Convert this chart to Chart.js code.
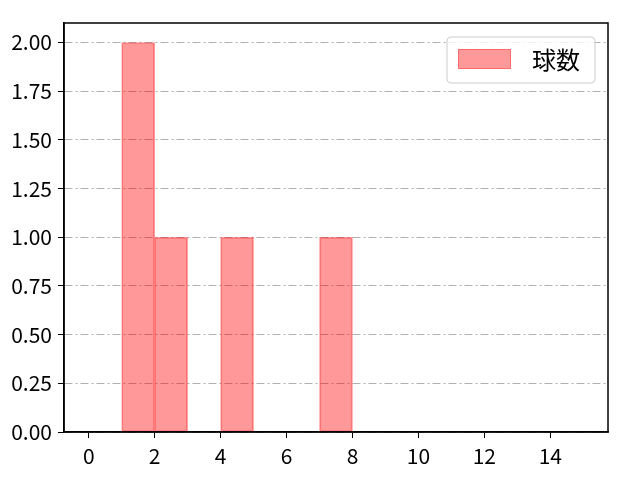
<!DOCTYPE html>
<html>
<head>
<meta charset="utf-8">
<script src="https://cdn.jsdelivr.net/npm/chart.js@4.4.0/dist/chart.umd.min.js"></script>
<style>
  html, body { margin: 0; padding: 0; background: #fff; }
  #wrap { width: 640px; height: 480px; }
</style>
</head>
<body>
<div id="wrap"><canvas id="myChart" width="640" height="480"></canvas></div>
<script>
// histogram bins (left edges, width 1) and counts
const binStarts = [0, 1, 2, 3, 4, 5, 6, 7, 8, 9, 10, 11, 12, 13, 14];
const counts = [0, 2, 1, 0, 1, 0, 0, 1, 0, 0, 0, 0, 0, 0, 0];
const seriesLabel = "球数";
const xTicks = [0, 2, 4, 6, 8, 10, 12, 14];
const yTicks = [0, 0.25, 0.5, 0.75, 1, 1.25, 1.5, 1.75, 2];

const FONT = "'Noto Sans CJK JP', 'Noto Sans', sans-serif";

const points = [];
for (let i = 0; i < binStarts.length; i++) {
  if (counts[i] > 0) points.push({ x: binStarts[i] + 0.5, y: counts[i] });
}

// frame round the plot + matplotlib-like legend box
const framePlugin = {
  id: "frame",
  afterDraw(chart) {
    const ctx = chart.ctx;
    const ca = chart.chartArea;
    ctx.save();
    ctx.strokeStyle = "#000";
    ctx.lineWidth = 1.5;
    ctx.strokeRect(ca.left, ca.top, ca.right - ca.left, ca.bottom - ca.top);

    const w = 148, h = 46;
    const x = ca.right - 13 - w, y = ca.top + 14;
    const r = 4;
    ctx.beginPath();
    ctx.moveTo(x + r, y);
    ctx.arcTo(x + w, y, x + w, y + h, r);
    ctx.arcTo(x + w, y + h, x, y + h, r);
    ctx.arcTo(x, y + h, x, y, r);
    ctx.arcTo(x, y, x + w, y, r);
    ctx.closePath();
    ctx.fillStyle = "rgba(255,255,255,0.8)";
    ctx.fill();
    ctx.strokeStyle = "#cccccc";
    ctx.lineWidth = 1;
    ctx.stroke();

    ctx.fillStyle = "rgba(255,0,0,0.4)";
    ctx.fillRect(x + 11, y + 12, 53, 20);
    ctx.strokeStyle = "rgba(255,0,0,0.3)";
    ctx.strokeRect(x + 11.5, y + 12.5, 52, 19);

    ctx.fillStyle = "#000";
    ctx.font = "24px " + FONT;
    ctx.textBaseline = "middle";
    ctx.fillText(seriesLabel, x + 85, y + 23);
    ctx.restore();
  }
};

new Chart("myChart", {
  type: "bar",
  data: {
    datasets: [
      {
        label: seriesLabel,
        data: points,
        backgroundColor: "rgba(255,0,0,0.4)",
        borderColor: "rgba(255,0,0,0.4)",
        borderWidth: 1,
        borderSkipped: false,
        barPercentage: 1,
        categoryPercentage: 1,
      },
    ],
  },
  options: {
    responsive: false,
    animation: false,
    layout: { padding: { left: 0, right: 32, top: 23, bottom: 0 } },
    plugins: {
      legend: { display: false },
      tooltip: { enabled: false },
    },
    scales: {
      x: {
        type: "linear",
        min: -0.75,
        max: 15.75,
        offset: false,
        afterBuildTicks: (s) => { s.ticks = xTicks.map((v) => ({ value: v })); },
        afterFit: (s) => { s.height = 48; },
        grid: { offset: false, drawOnChartArea: false, tickLength: 6, tickColor: "#000", tickWidth: 1 },
        border: { color: "#000", width: 1.5 },
        ticks: { color: "#000", font: { family: FONT, size: 21 }, padding: 5, maxRotation: 0 },
      },
      y: {
        min: 0,
        max: 2.1,
        afterBuildTicks: (s) => { s.ticks = yTicks.map((v) => ({ value: v })); },
        afterFit: (s) => { s.width = 64; },
        grid: { color: "#b0b0b0", lineWidth: 1, tickLength: 6, tickColor: "#000", tickWidth: 1 },
        border: { color: "#000", width: 1.5, dash: [8, 3, 2, 3] },
        ticks: {
          color: "#000",
          font: { family: FONT, size: 21 },
          padding: 6,
          callback: (v) => Number(v).toFixed(2),
        },
      },
    },
  },
  plugins: [framePlugin],
});
</script>
</body>
</html>
